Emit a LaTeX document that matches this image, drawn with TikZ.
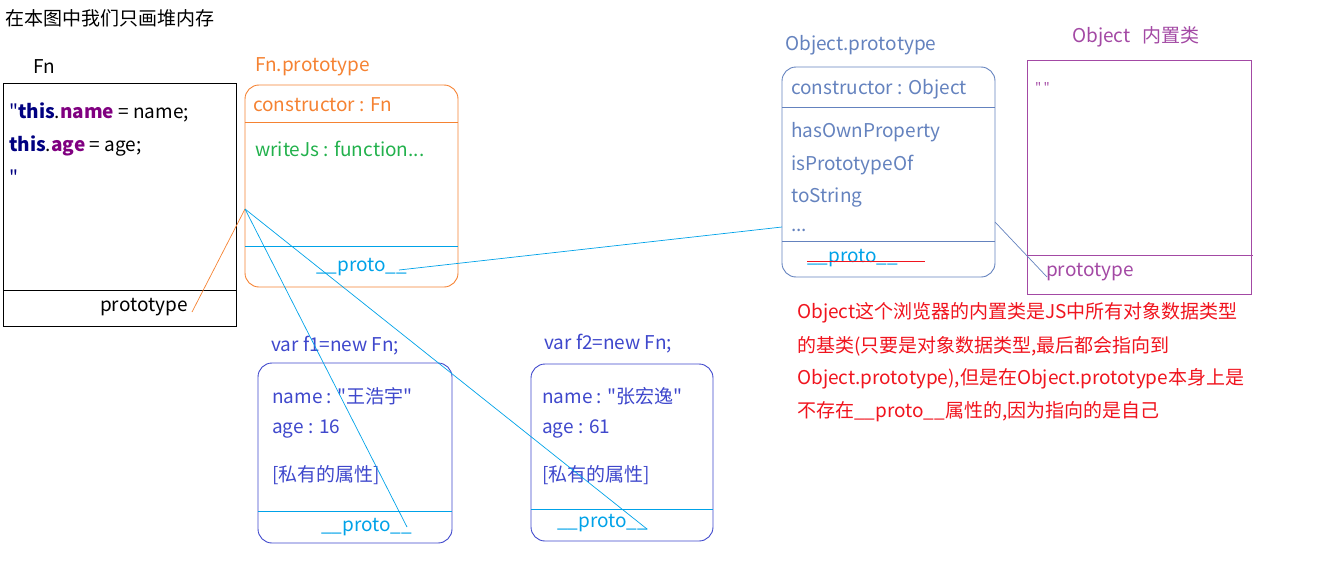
\documentclass[tikz,border=0pt]{standalone}
\usepackage{fontspec}
\setmainfont{Noto Sans CJK SC}[Ligatures=TeXOff]
\usetikzlibrary{calc}

\definecolor{fnorange}{RGB}{245,130,50}
\definecolor{jsgreen}{RGB}{34,177,76}
\definecolor{protocyan}{RGB}{0,162,232}
\definecolor{objblue}{RGB}{100,130,190}
\definecolor{objpurple}{RGB}{163,73,164}
\definecolor{notered}{RGB}{240,20,30}
\definecolor{instblue}{RGB}{63,72,204}
\definecolor{kwnavy}{RGB}{0,0,128}
\definecolor{kwpurple}{RGB}{128,0,128}

\tikzset{
  txt/.style={anchor=west, inner sep=0pt, font=\fontsize{19}{22}\selectfont},
  heapbox/.style={line width=0.9pt, rounded corners=14pt},
  link/.style={line width=0.7pt}
}

\begin{document}
\begin{tikzpicture}[x=1pt,y=-1pt]
\useasboundingbox (0,0) rectangle (1319,578);

\node[txt] (title) at (5,18) {在本图中我们只画堆内存};

% Fn (the function itself)
\node[txt] (fnlabel) at (33,67) {Fn};
\draw[line width=0.9pt] (3,83) rectangle (236,326);
\draw[line width=0.9pt] (3,290) -- (236,290);
\node[txt] (code1) at (9,112) {\textcolor{kwnavy}{"}\textcolor{kwnavy}{\bfseries this}.\textcolor{kwpurple}{\bfseries name} = name;};
\node[txt] (code2) at (9,146) {\textcolor{kwnavy}{\bfseries this}.\textcolor{kwpurple}{\bfseries age} = age;};
\node[txt] (code3) at (9,177) {\textcolor{kwnavy}{"}};
\node[txt] (fnproto) at (100,307) {prototype};
\coordinate (fnprotoEnd) at (192,312);

% Fn.prototype
\node[txt, text=fnorange] (fplabel) at (255,67) {Fn.prototype};
\draw[heapbox, fnorange] (245,85) rectangle (458,287);
\draw[fnorange, line width=0.9pt] (245,122) -- (458,122);
\draw[protocyan, line width=0.9pt] (245,246) -- (458,246);
\node[txt, text=fnorange] (fpctor) at (253,105) {constructor : Fn};
\node[txt, text=jsgreen] (fpwrite) at (255,149) {writeJs : function...};
\node[txt, text=protocyan] (fpproto) at (316,267) {\_\_proto\_\_};
\coordinate (fpHit) at (245,209);
\coordinate (fpProtoEnd) at (399,270);

% Object.prototype
\node[txt, text=objblue] (oplabel) at (785,45) {Object.prototype};
\draw[heapbox, objblue] (782,67) rectangle (995,277);
\draw[objblue, line width=0.9pt] (782,107) -- (995,107);
\draw[objblue, line width=0.9pt] (782,241) -- (995,241);
\node[txt, text=objblue] (opctor) at (791,89) {constructor : Object};
\node[txt, text=objblue] (ophas) at (791,132) {hasOwnProperty};
\node[txt, text=objblue] (opis) at (791,165) {isPrototypeOf};
\node[txt, text=objblue] (opstr) at (791,198) {toString};
\node[txt, text=objblue] (opdots) at (791,230) {...};
\node[txt, text=protocyan] (opproto) at (807,258) {\_\_proto\_\_};
\draw[notered, line width=0.8pt] (807,261) -- (925,261);
\coordinate (opHit) at (782,227);
\coordinate (opSide) at (995,222);

% Object (built-in class)
\node[txt, text=objpurple] (objlabel) at (1072,37) {Object\hspace{12pt}内置类};
\draw[objpurple, line width=0.9pt] (1027,60) rectangle (1251,294);
\draw[objpurple, line width=0.9pt] (1027,255) -- (1253,255);
\node[txt, text=objpurple, font=\fontsize{13}{15}\selectfont] (objstr) at (1035,87) {"\,"};
\node[txt, text=objpurple] (objproto) at (1046,272) {prototype};
\coordinate (objProtoEnd) at (1047,277);

% note
\node[txt, text=notered] (note1) at (797,313) {Object这个浏览器的内置类是JS中所有对象数据类型};
\node[txt, text=notered] (note2) at (797,346) {的基类(只要是对象数据类型,最后都会指向到};
\node[txt, text=notered] (note3) at (797,379) {Object.prototype),但是在Object.prototype本身上是};
\node[txt, text=notered] (note4) at (797,412) {不存在\_\_proto\_\_属性的,因为指向的是自己};

% f1
\node[txt, text=instblue] (f1label) at (271,346) {var f1=new Fn;};
\draw[heapbox, instblue] (258,363) rectangle (452,543);
\draw[protocyan, line width=0.9pt] (258,511) -- (452,511);
\node[txt, text=instblue] (f1name) at (272,396) {name : "王浩宇"};
\node[txt, text=instblue] (f1age) at (272,429) {age : 16};
\node[txt, text=instblue] (f1priv) at (272,475) {[私有的属性]};
\node[txt, text=protocyan] (f1proto) at (321,527) {\_\_proto\_\_};
\coordinate (f1ProtoEnd) at (407,527);

% f2
\node[txt, text=instblue] (f2label) at (544,344) {var f2=new Fn;};
\draw[heapbox, instblue] (531,364) rectangle (713,541);
\draw[protocyan, line width=0.9pt] (531,509) -- (713,509);
\node[txt, text=instblue] (f2name) at (542,396) {name : "张宏逸"};
\node[txt, text=instblue] (f2age) at (542,429) {age : 61};
\node[txt, text=instblue] (f2priv) at (542,475) {[私有的属性]};
\node[txt, text=protocyan] (f2proto) at (557,523) {\_\_proto\_\_};
\coordinate (f2ProtoEnd) at (647,529);

% links
\draw[link, fnorange] (fnprotoEnd) -- (fpHit);
\draw[link, protocyan] (f1ProtoEnd) -- (fpHit);
\draw[link, protocyan] (f2ProtoEnd) -- (fpHit);
\draw[link, protocyan] (fpProtoEnd) -- (opHit);
\draw[link, objblue] (opSide) -- (objProtoEnd);
\end{tikzpicture}
\end{document}
